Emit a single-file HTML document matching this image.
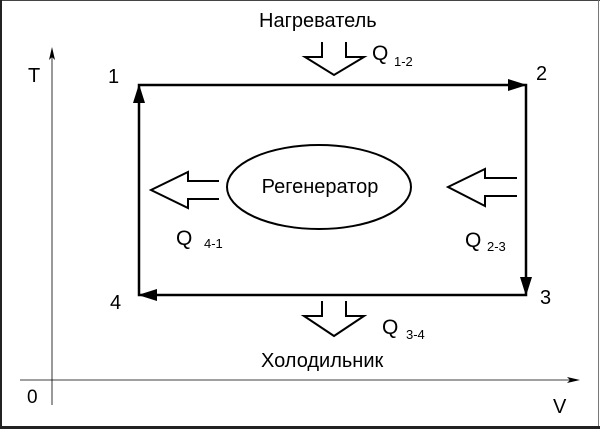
<!DOCTYPE html>
<html><head><meta charset="utf-8"><style>
html,body{margin:0;padding:0;background:#fff}
svg{display:block}
text{font-family:"Liberation Sans",sans-serif;fill:#000}
</style></head><body>
<svg width="600" height="429" viewBox="0 0 600 429" xmlns="http://www.w3.org/2000/svg">
<rect x="0" y="0" width="600" height="429" fill="#fff"/>
<line x1="0" y1="0.5" x2="600" y2="0.5" stroke="#444" stroke-width="1"/>
<line x1="1" y1="0" x2="1" y2="429" stroke="#222" stroke-width="2"/>
<line x1="598.5" y1="0" x2="598.5" y2="429" stroke="#777" stroke-width="1"/>
<line x1="0" y1="427.5" x2="600" y2="427.5" stroke="#222" stroke-width="3"/>

<line x1="52" y1="52" x2="52" y2="405" stroke="#000" stroke-width="0.8"/>
<polygon points="52,47 49,60 52,57 55,60" fill="#000"/>
<line x1="20" y1="380" x2="575" y2="380" stroke="#000" stroke-width="0.8"/>
<polygon points="580,380 567,377 570,380 567,383" fill="#000"/>
<text x="28" y="82" font-size="20">T</text>
<text x="27" y="403" font-size="19">0</text>
<text x="553" y="413" font-size="20">V</text>

<rect x="139" y="85" width="387" height="210" fill="none" stroke="#000" stroke-width="2.5"/>
<polygon points="139,84 133,103 145,103" fill="#000"/>
<polygon points="527,85 508,79 508,91" fill="#000"/>
<polygon points="526,296 520,277 532,277" fill="#000"/>
<polygon points="138,295 157,289 157,301" fill="#000"/>

<text x="108" y="83" font-size="20">1</text>
<text x="536" y="80" font-size="20">2</text>
<text x="540" y="304" font-size="20">3</text>
<text x="110" y="309" font-size="20">4</text>

<polyline points="322,42 322,57 305,57 334,75 364,57 346,57 346,42" fill="none" stroke="#000" stroke-width="2"/>
<text x="372" y="60" font-size="21">Q</text><text x="394" y="66" font-size="13">1-2</text>
<text x="259" y="27" font-size="20">Нагреватель</text>

<polyline points="322,301 322,316 304,316 334,336 364,316 346,316 346,301" fill="none" stroke="#000" stroke-width="2"/>
<text x="382" y="334" font-size="21">Q</text><text x="406" y="339" font-size="13">3-4</text>
<text x="261" y="367" font-size="20">Холодильник</text>

<polyline points="219,181 188,181 188,172 151,190 188,208 188,199 219,199" fill="none" stroke="#000" stroke-width="2"/>
<text x="176" y="245" font-size="21">Q</text><text x="204" y="248" font-size="13">4-1</text>

<polyline points="517,178 485,178 485,169 448,187 485,206 485,196 517,196" fill="none" stroke="#000" stroke-width="2"/>
<text x="465" y="247" font-size="21">Q</text><text x="487" y="251" font-size="13">2-3</text>

<ellipse cx="319" cy="187" rx="92" ry="42" fill="none" stroke="#000" stroke-width="2"/>
<text x="320" y="193" font-size="20" text-anchor="middle">Регенератор</text>
</svg>
</body></html>
